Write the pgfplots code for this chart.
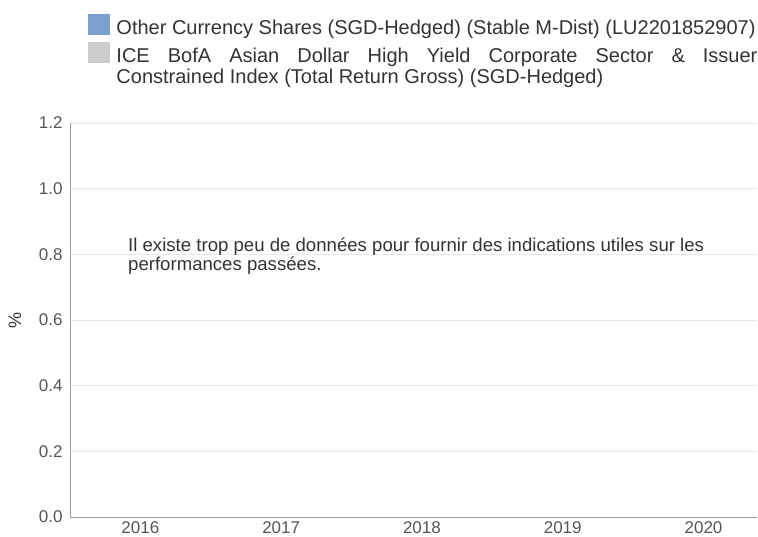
\documentclass[border=0pt]{standalone}
\usepackage{pgfplots}
\pgfplotsset{compat=1.18}
\usepackage{fontspec}
\setmainfont{Liberation Sans}
\definecolor{serA}{HTML}{7BA0CD}
\definecolor{serB}{HTML}{CCCCCC}
\definecolor{txt}{HTML}{333333}
\definecolor{tick}{HTML}{555555}
\definecolor{axln}{HTML}{999999}
\definecolor{grd}{HTML}{E6E6E6}
\begin{document}
\begin{tikzpicture}
\path[use as bounding box] (0,0) rectangle (758pt,536pt);
\begin{axis}[
  at={(70pt,19pt)}, anchor=south west,
  scale only axis, width=687pt, height=394pt,
  xmin=-0.5, xmax=4.38, ymin=0, ymax=1.2,
  xtick={0,1,2,3,4}, xticklabels={2016,2017,2018,2019,2020},
  ytick={0,0.2,0.4,0.6,0.8,1.0,1.2},
  yticklabel style={/pgf/number format/fixed,/pgf/number format/fixed zerofill,/pgf/number format/precision=1},
  /pgf/number format/assume math mode=true,
  major tick length=0pt,
  axis x line*=bottom, axis y line*=left,
  axis line style={axln, line width=0.8pt, -},
  ymajorgrids, grid style={grd, line width=0.8pt},
  tick label style={font=\fontsize{17}{19}\selectfont, text=tick},
  yticklabel style={xshift=-4pt},
  xticklabel style={yshift=-1pt},
  ylabel={\%},
  ylabel style={at={(axis description cs:-0.08,0.5)}, anchor=center, rotate=0, font=\fontsize{18}{20}\selectfont, text=txt},
  legend style={draw=none, fill=none, inner sep=0pt, row sep=6pt, column sep=0pt,
    at={(axis description cs:0.026,1.2766)}, anchor=north west,
    font=\fontsize{20}{21.5}\selectfont, text=txt,
    nodes={inner sep=0pt},
    cells={anchor=base west}},
  legend image code/.code={\fill[#1] (0pt,0pt) rectangle (21pt,20pt);},
]
\addlegendimage{serA}
\addlegendentry{\hspace{7pt}\parbox[t]{641pt}{Other Currency Shares (SGD-Hedged) (Stable M-Dist) (LU2201852907)}}
\addlegendimage{serB}
\addlegendentry{\hspace{7pt}\parbox[t]{641pt}{\hyphenpenalty=10000 ICE BofA Asian Dollar High Yield Corporate Sector \& Issuer\linebreak Constrained Index (Total Return Gross) (SGD-Hedged)}}
\node[anchor=base west, align=left, inner sep=0pt, font=\fontsize{18.6}{19}\selectfont, text=txt]
  at (axis description cs:0.0844,0.626) {Il existe trop peu de données pour fournir des indications utiles sur les\\performances passées.};
\end{axis}
\end{tikzpicture}
\end{document}
